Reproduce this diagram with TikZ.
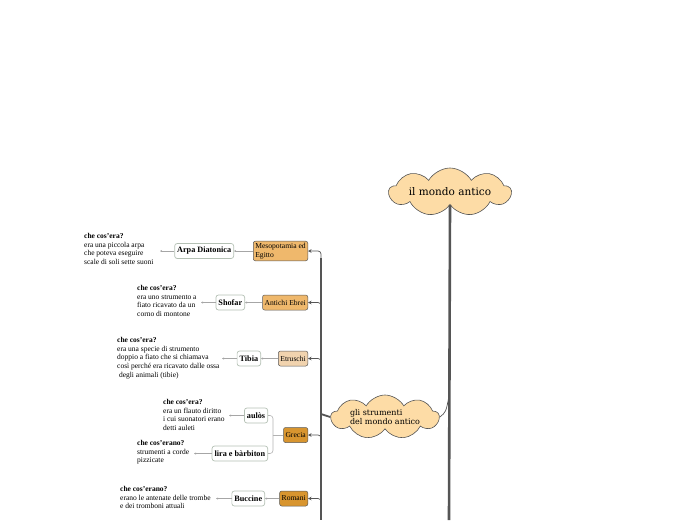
\documentclass[tikz,border=0pt]{standalone}
\usepackage{fontspec}
\setmainfont{Liberation Serif}
\newfontfamily\slab{DejaVu Serif}
\usetikzlibrary{shapes.symbols,arrows.meta}
\definecolor{cloudfill}{HTML}{FDDCA6}
\definecolor{catA}{HTML}{EFB86C}
\definecolor{catB}{HTML}{F1D3AE}
\definecolor{catC}{HTML}{D8952F}
\definecolor{subline}{HTML}{B4C0B4}
\definecolor{darkline}{HTML}{555555}
\begin{document}
\begin{tikzpicture}[x=1pt,y=-1pt,
 cloudbox/.style={cloud, cloud puffs=9, cloud puff arc=120, cloud ignores aspect, draw=darkline, fill=cloudfill, inner sep=0pt, line width=0.6pt, align=left},
 catbox/.style={draw=black!65, rounded corners=2pt, inner sep=2pt, font=\fontsize{7.6}{8.6}\selectfont, align=left, line width=0.5pt, minimum height=15pt, anchor=east},
 subbox/.style={draw=subline, fill=white, rounded corners=2.5pt, inner sep=2.5pt, font=\fontsize{8.2}{9}\selectfont\bfseries, line width=0.7pt, minimum height=15pt, anchor=east},
 note/.style={anchor=north west, align=left, inner sep=0pt, font=\fontsize{7.5}{8.7}\selectfont},
 arr/.style={-{Stealth[length=3.5pt,width=3.5pt]}, draw=darkline, line width=0.7pt, rounded corners=3pt},
 larr/.style={-{Stealth[length=2.2pt,width=2.2pt]}, draw=black!35, line width=0.5pt},
 lline/.style={draw=black!30, line width=0.6pt, rounded corners=3pt},
]
\useasboundingbox (0,0) rectangle (696,520);

% clouds
\node[cloudbox, minimum width=122pt, minimum height=48pt, font=\slab\fontsize{10.5}{12}\selectfont] (c1) at (450,192) {il mondo antico};
\node[cloudbox, minimum width=108pt, minimum height=44pt, font=\slab\fontsize{8}{9.5}\selectfont] (c2) at (385,417) {gli strumenti\\del mondo antico};

% trunk
\coordinate (trB) at (449,520);
\coordinate (trJ) at (449,396);
\draw[darkline, line width=2.6pt] (c1.south) -- (trB);
\draw[darkline, line width=0.7pt] (c2.east) .. controls (446,412) .. (trJ);

% spine
\coordinate (spJ) at (321,414);
\coordinate (spT) at (321,258);
\coordinate (spB) at (321,520);
\draw[darkline, line width=1.8pt] (c2.west) -- (spJ);
\draw[darkline, line width=1.1pt] (spT) -- (spB);

% categories
\node[catbox, fill=catA] (k1) at (308,251) {Mesopotamia ed\\Egitto};
\node[catbox, fill=catA] (k2) at (308,302.5) {Antichi Ebrei};
\node[catbox, fill=catB] (k3) at (308,358.5) {Etruschi};
\node[catbox, fill=catC] (k4) at (308,435) {Grecia};
\node[catbox, fill=catC] (k5) at (308,498.5) {Romani};

\coordinate (a1) at (321,259);
\coordinate (a2) at (321,310);
\coordinate (a3) at (321,366);
\coordinate (a4) at (321,443);
\coordinate (a5) at (321,506);
\foreach \i in {1,...,5}{\draw[arr] (a\i) |- (k\i.east);}

% sub nodes
\node[subbox] (s1) at (234,251) {Arpa Diatonica};
\node[subbox] (s2) at (245,302.5) {Shofar};
\node[subbox] (s3) at (261,358.5) {Tibia};
\node[subbox] (s4) at (268,415.5) {aulòs};
\node[subbox] (s5) at (268,453.5) {lira e bàrbiton};
\node[subbox] (s6) at (265,498.5) {Buccine};

\draw[larr] (k1.west) -- (s1.east);
\draw[larr] (k2.west) -- (s2.east);
\draw[larr] (k3.west) -- (s3.east);
\draw[larr] (k5.west) -- (s6.east);
\coordinate (g) at (273,435);
\draw[lline] (k4.west) -- (g);
\draw[lline] (g) |- (s4.east);
\draw[lline] (g) |- (s5.east);

% notes
\node[note] (n1) at (84,233) {\textbf{che cos'era?}\\era una piccola arpa\\che poteva eseguire\\scale di soli sette suoni};
\node[note] (n2) at (137,285) {\textbf{che cos'era?}\\era uno strumento a\\fiato ricavato da un\\corno di montone};
\node[note] (n3) at (117,337) {\textbf{che cos'era?}\\era una specie di strumento\\doppio a fiato che si chiamava\\così perché era ricavato dalle ossa\\\ degli animali (tibie)};
\node[note] (n4) at (163,399) {\textbf{che cos'era?}\\era un flauto diritto\\i cui suonatori erano\\detti auleti};
\node[note] (n5) at (137,440) {\textbf{che cos'erano?}\\strumenti a corde\\pizzicate};
\node[note] (n6) at (120,486) {\textbf{che cos'erano?}\\erano le antenate delle trombe\\e dei tromboni attuali};

\coordinate (e1) at (160,251);
\coordinate (e2) at (201,302.5);
\coordinate (e3) at (222,358.5);
\coordinate (e4) at (229,415.5);
\coordinate (e5) at (194,453.5);
\coordinate (e6) at (216,498.5);
\foreach \i in {1,...,6}{\draw[larr] (s\i.west) -- (e\i);}
\end{tikzpicture}
\end{document}
